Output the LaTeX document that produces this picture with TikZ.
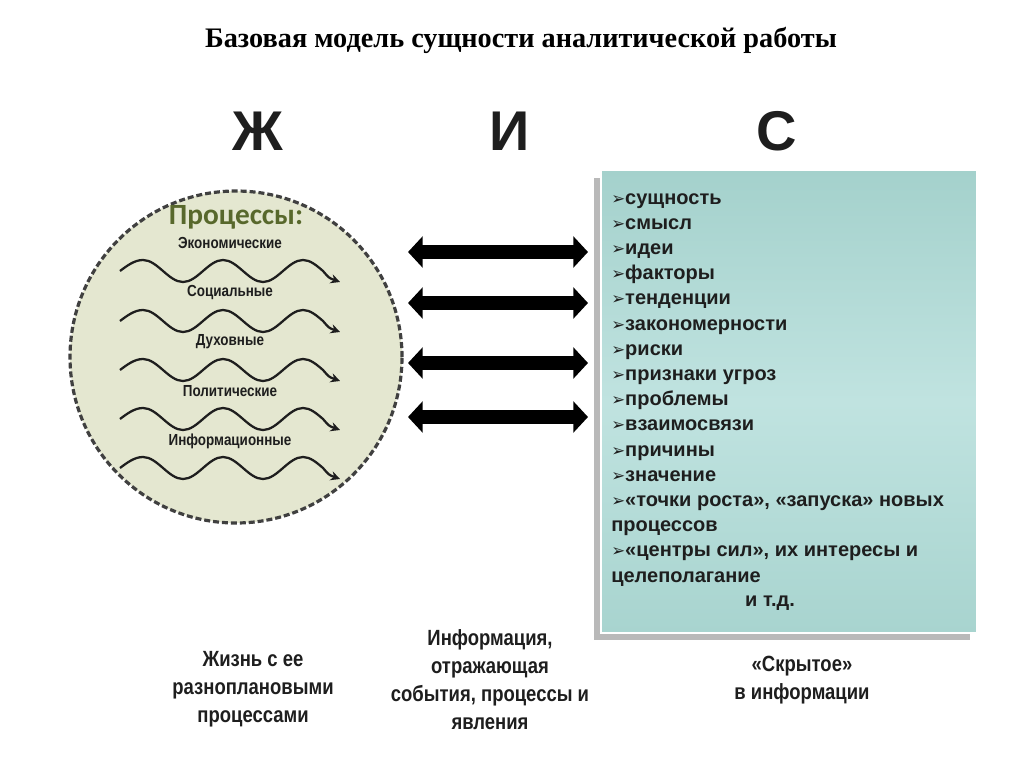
\documentclass[tikz,border=0pt]{standalone}
\usepackage{fontspec}
\setmainfont{Liberation Sans}
\newfontfamily\titlefont{Liberation Serif}
\newfontfamily\narrowfont[FakeStretch=0.84]{Liberation Sans}
\newfontfamily\procfont{Carlito}
\newfontfamily\symfont{DejaVu Sans}
\usetikzlibrary{arrows.meta}

\definecolor{circfill}{RGB}{228,231,208}
\definecolor{olive}{RGB}{88,104,44}
\definecolor{boxtop}{RGB}{164,209,204}
\definecolor{boxmid}{RGB}{192,227,224}
\definecolor{boxbot}{RGB}{168,212,207}
\definecolor{ink}{RGB}{30,30,30}

\newcommand{\itembul}{{\symfont\fontsize{12.5}{12.5}\selectfont ➢}}

\begin{document}
\begin{tikzpicture}[x=0.75pt, y=-0.75pt,
    wave/.style={line width=1.7pt, ink, -{Stealth[length=7pt,width=7pt]}},
    link/.style={line width=11pt, {Triangle[length=11pt,width=23pt]}-{Triangle[length=11pt,width=23pt]}},
    kind/.style={font=\narrowfont\bfseries\fontsize{12}{13}\selectfont, text=ink},
    caption/.style={font=\narrowfont\bfseries\fontsize{16.5}{21}\selectfont, align=center, text=ink},
    letter/.style={font=\bfseries\fontsize{42}{42}\selectfont, text=ink}]
        \useasboundingbox (0,0) rectangle (1024,767);

        % Title
        \node[font=\titlefont\bfseries\fontsize{21.2}{24}\selectfont] (title) at (521,40) {Базовая модель сущности аналитической работы};

        % Letters
        \node[letter] (zh) at (258,131) {Ж};
        \node[letter] (i) at (510,131) {И};
        \node[letter] (s) at (777,131) {С};

        % Life circle
        \node[circle, draw=ink!85, fill=circfill, line width=2.4pt, dash pattern=on 4.5pt off 2.2pt, minimum size=249pt] (life) at (236,357) {};
        \node[font=\procfont\bfseries\fontsize{22}{22}\selectfont, text=olive] (proc) at (236,217) {Процессы:};
        \foreach \t [count=\i from 0] in {Экономические, Социальные, Духовные, Политические, Информационные}
            \node[kind] (k\i) at (230,{243+49.5*\i}) {\t};
        \foreach \y in {271,321,370,419,468}
            \draw[wave] (120,\y) sin (143,\y-11) cos (163,\y) sin (183,\y+11) cos (203,\y)
                sin (223,\y-11) cos (243,\y) sin (263,\y+11) cos (283,\y)
                sin (303,\y-11) cos (323,\y) .. controls (329,\y+7) .. (340,\y+11);

        % Arrows
        \foreach \y [count=\i] in {252,303,363,417} {
            \coordinate (l\i) at (408,\y);
            \coordinate (r\i) at (588,\y);
            \draw[link] (l\i) -- (r\i);
        }

        % Hidden box
        \fill[gray!55] (594,178) rectangle (970,640);
        \node[draw=white, line width=1pt, top color=boxtop, bottom color=boxbot, middle color=boxmid, minimum width=282pt, minimum height=347pt] (box) at (789,401.5) {};
        \node[anchor=north west, align=left, inner sep=0pt, text=ink, font=\bfseries\fontsize{15}{18.9}\selectfont] (list) at (611,193) {\itembul сущность\\
            \itembul смысл\\
            \itembul идеи\\
            \itembul факторы\\
            \itembul тенденции\\
            \itembul закономерности\\
            \itembul риски\\
            \itembul признаки угроз\\
            \itembul проблемы\\
            \itembul взаимосвязи\\
            \itembul причины\\
            \itembul значение\\
            \itembul «точки роста», «запуска» новых\\
            процессов\\
            \itembul «центры сил», их интересы и\\
            целеполагание};
        \node[text=ink, font=\bfseries\fontsize{15}{18.9}\selectfont] (etc) at (770,603) {и т.д.};

        % Captions
        \node[caption] (life-cap) at (253,689) {Жизнь с ее\\разноплановыми\\процессами};
        \node[caption] (info-cap) at (490,680) {Информация,\\отражающая\\события, процессы и\\явления};
        \node[caption] (hidden-cap) at (802,680) {«Скрытое»\\в информации};
\end{tikzpicture}
\end{document}
